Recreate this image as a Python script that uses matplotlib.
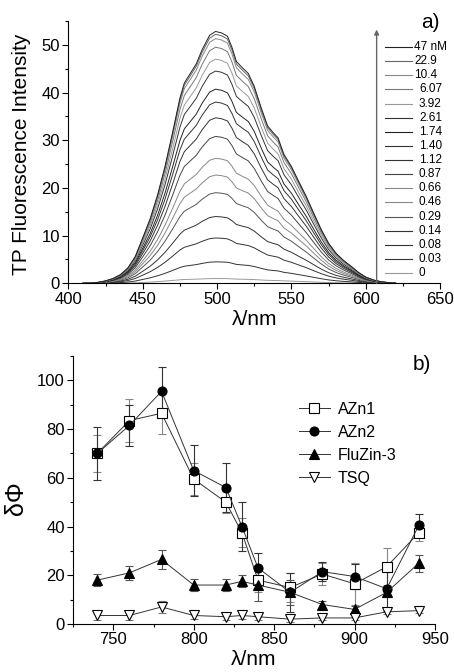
"""Two-panel figure: TP fluorescence titration and two-photon action cross sections."""

import matplotlib

matplotlib.use("Agg")
import matplotlib.pyplot as plt
import numpy as np
from matplotlib.ticker import MultipleLocator

plt.rcParams["font.family"] = ["Liberation Sans", "DejaVu Sans"]

# ---- panel a: emission spectra ----
wavelength = [410, 415, 420, 425, 430, 435, 440, 445, 450, 455, 460, 465, 470, 475,
              478, 482, 486, 490, 495, 499, 503, 507, 510, 513, 517, 521, 525, 530,
              534, 538, 541, 545, 550, 555, 560, 565, 570, 575, 580, 585, 590, 595,
              600, 605, 610, 615, 620]
# spectrum of the 47 nM curve
top_spectrum = [0.0, 0.05, 0.2, 0.5, 1.0, 1.8, 3.2, 5.6, 9.5, 13.5, 18.5, 24.5, 31.5, 38.8,
                42.0, 44.0, 46.0, 49.0, 52.0, 52.8, 52.5, 51.8, 49.5, 46.5, 45.2, 44.0, 41.3, 36.5,
                33.0, 31.5, 30.5, 27.0, 24.5, 21.3, 18.2, 14.7, 11.3, 8.4, 6.3, 4.8, 3.6, 2.3,
                1.3, 0.7, 0.35, 0.15, 0.05]
conc_labels = ["0", "0.03", "0.08", "0.14", "0.29", "0.46", "0.66", "0.87", "1.12",
               "1.40", "1.74", "2.61", "3.92", "6.07", "10.4", "22.9", "47 nM"]
peak_heights = [1.0, 4.5, 9.5, 14.0, 19.0, 22.7, 26.2, 30.8, 34.7, 38.0, 40.7, 44.5,
                47.0, 49.5, 51.3, 52.2, 52.8]
curve_colors = ["#999999", "#333333", "#333333", "#333333", "#555555", "#888888", "#888888",
                "#444444", "#333333", "#333333", "#222222", "#333333", "#999999", "#777777",
                "#888888", "#666666", "#222222"]

# ---- panel b: action cross sections ----
exc_wavelength = [740, 760, 780, 800, 820, 830, 840, 860, 880, 900, 920, 940]
azn1 = [70, 83.5, 86.5, 59.5, 50, 37.5, 18, 15, 20.5, 16.5, 23.5, 37.5]
azn1_err = [7.5, 8.7, 8.7, 6.7, 4.5, 6.0, 5.0, 6.0, 4.5, 8.5, 7.5, 3.5]
azn2 = [70, 81.5, 95.5, 63, 56, 40, 23, 13, 21.5, 19.5, 14.5, 40.5]
azn2_err = [11, 8.5, 10, 10.5, 10, 10, 6.3, 8, 4, 5, 9, 4.5]
fluzin3 = [18, 21, 26.5, 16, 16, 17.5, 16, 13, 8, 6, 13, 25]
fluzin3_err = [2.5, 3, 4, 2.5, 2.5, 2.5, 6.5, 5, 1.5, 1.5, 2, 3.5]
tsq = [3.5, 3.5, 7, 3.5, 3, 3.5, 3, 2, 2.5, 2.5, 5, 5.5]
tsq_err = [2, 2, 2.5, 1.5, 1.5, 1.5, 1.5, 1, 1, 1, 1, 1]

fig = plt.figure(figsize=(4.54, 6.72), dpi=100)
ax_a = fig.add_axes([0.1505, 0.5784, 0.819, 0.3904])
ax_b = fig.add_axes([0.161, 0.0714, 0.797, 0.3988])

tick_fs = 12
label_fs = 15

for ax in (ax_a, ax_b):
    ax.spines["top"].set_visible(False)
    ax.spines["right"].set_visible(False)
    ax.tick_params(which="major", direction="out", length=4, width=0.8,
                   labelsize=tick_fs, pad=2)
    ax.tick_params(which="minor", direction="out", length=2.2, width=0.8)

# panel a
shape = np.asarray(top_spectrum) / max(top_spectrum)
for peak, color in zip(peak_heights, curve_colors):
    ax_a.plot(wavelength, shape * peak, color=color, linewidth=0.7)

ax_a.annotate("", xy=(607.3, 53.2), xytext=(607.3, 0),
              arrowprops=dict(arrowstyle="-|>", color="#666666", lw=1.0,
                              mutation_scale=7, shrinkA=0, shrinkB=0))

row_top, row_step = 0.901, 0.0539
for i, (lab, color) in enumerate(zip(conc_labels[::-1], curve_colors[::-1])):
    y = row_top - i * row_step
    ax_a.plot([0.852, 0.925], [y, y], color=color, linewidth=0.8,
              transform=ax_a.transAxes, clip_on=False)
    indent = 0.0 if i < 3 else 0.013
    ax_a.text(0.930 + indent, y, lab, transform=ax_a.transAxes, fontsize=8.5,
              va="center", ha="left")

ax_a.set_xlim(400, 650)
ax_a.set_ylim(0, 55)
ax_a.xaxis.set_major_locator(MultipleLocator(50))
ax_a.xaxis.set_minor_locator(MultipleLocator(25))
ax_a.yaxis.set_major_locator(MultipleLocator(10))
ax_a.yaxis.set_minor_locator(MultipleLocator(5))
ax_a.set_xlabel("λ/nm", fontsize=label_fs)
ax_a.set_ylabel("TP Fluorescence Intensity", fontsize=label_fs)
ax_a.xaxis.set_label_coords(0.5, -0.1)
ax_a.yaxis.set_label_coords(-0.1, 0.49)
fig.text(0.947, 0.966, "a)", fontsize=15, ha="center", va="center")

# panel b
series = [
    ("AZn1", azn1, azn1_err, "s", "white", "#888888"),
    ("AZn2", azn2, azn2_err, "o", "black", "#333333"),
    ("FluZin-3", fluzin3, fluzin3_err, "^", "black", "#555555"),
    ("TSQ", tsq, tsq_err, "v", "white", "#777777"),
]
for name, vals, errs, marker, face, ecolor in series:
    ax_b.errorbar(exc_wavelength, vals, yerr=errs, fmt="-", marker=marker,
                  color="#333333", linewidth=0.7, markersize=6.5,
                  markerfacecolor=face, markeredgecolor="black", markeredgewidth=0.8,
                  ecolor=ecolor, elinewidth=0.8, capsize=3, capthick=0.8, label=name)

ax_b.set_xlim(725, 950)
ax_b.set_ylim(0, 110)
ax_b.xaxis.set_major_locator(MultipleLocator(50))
ax_b.xaxis.set_minor_locator(MultipleLocator(25))
ax_b.yaxis.set_major_locator(MultipleLocator(20))
ax_b.yaxis.set_minor_locator(MultipleLocator(10))
ax_b.set_xlabel("λ/nm", fontsize=label_fs)
ax_b.set_ylabel("δΦ", fontsize=18)
ax_b.xaxis.set_label_coords(0.5, -0.097)
ax_b.yaxis.set_label_coords(-0.125, 0.47)

handles, labels = ax_b.get_legend_handles_labels()
handles = [h[0] for h in handles]
ax_b.legend(handles, labels, loc="upper left", bbox_to_anchor=(0.625, 0.83),
            frameon=False, fontsize=11.5, handlelength=1.9, handletextpad=0.5,
            labelspacing=0.5, borderpad=0, borderaxespad=0)
fig.text(0.93, 0.457, "b)", fontsize=15, ha="center", va="center")

fig.savefig("out.png", dpi=100)
plt.close(fig)
